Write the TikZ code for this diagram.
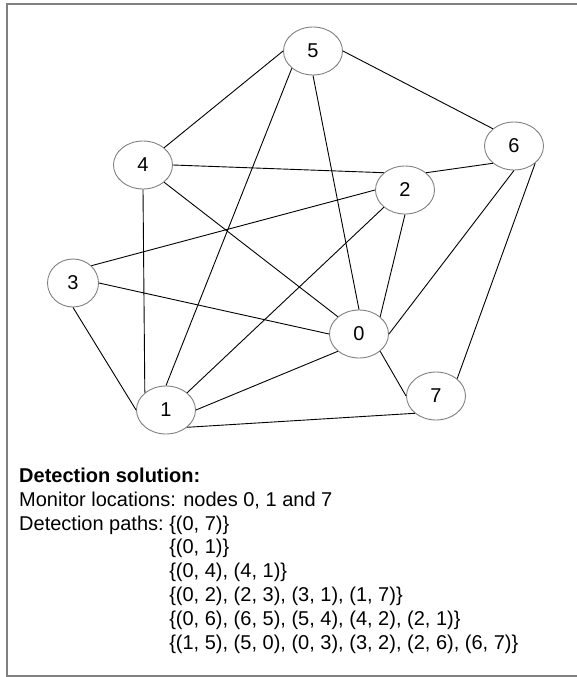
\documentclass[tikz,border=0pt]{standalone}
\usepackage{fontspec}
\setmainfont{Liberation Sans}
\usetikzlibrary{shapes,positioning}

\begin{document}
\begin{tikzpicture}[x=1pt, y=-1pt, font=\fontsize{20}{23.86}\selectfont,
	vertex/.style={ellipse, draw=gray, line width=0.9pt, minimum width=59pt, minimum height=48pt, inner sep=0pt},
	link/.style={black, line width=0.9pt}]
				\useasboundingbox (0,0) rectangle (577,677);
				\draw[gray, line width=1.2pt] (7,4) rectangle (590,676);
				
				\node[vertex] (v5) at (313,51) {5};
				\node[vertex] (v6) at (514,146) {6};
				\node[vertex] (v4) at (143,165) {4};
				\node[vertex] (v2) at (405,190) {2};
				\node[vertex, minimum width=51pt] (v3) at (73,283) {3};
				\node[vertex] (v0) at (359,334) {0};
				\node[vertex] (v7) at (436,396) {7};
				\node[vertex] (v1) at (166,410) {1};
				
				\draw[link] (v5.west) -- (v4.north east);
				\draw[link] (v5.south west) -- (v1.north);
				\draw[link] (v5.south) -- (v0.north);
				\draw[link] (v5.east) -- (v6.north west);
				\draw[link] (v4.east) -- (v2.north west);
				\draw[link] (v4.south east) -- (v0.north west);
				\draw[link] (v4.south) -- (v1.north west);
				\draw[link] (v6.south west) -- (v2.north east);
				\draw[link] (v6.south) -- (v0.east);
				\draw[link] (v6.south east) -- (v7.north east);
				\draw[link] (v2.west) -- (v3.north east);
				\draw[link] (v2.south west) -- (v1.north east);
				\draw[link] (v2.south) -- (v0.north east);
				\draw[link] (v3.east) -- (v0.west);
				\draw[link] (v3.south) -- (v1.west);
				\draw[link] (v1.east) -- (v0.south west);
				\draw[link] (v1.south east) -- (v7.south west);
				\draw[link] (v0.south east) -- (v7.west);
				
				\node[anchor=base west, inner sep=0pt] (solution) at (19,482.3) {%
					\begin{tabular}[t]{@{}l@{}l@{}}
						\multicolumn{2}{@{}l@{}}{\bfseries Detection solution:}\\
						\multicolumn{2}{@{}l@{}}{Monitor locations: nodes 0, 1 and 7}\\
						Detection paths:~ & \{(0, 7)\}\\
						& \{(0, 1)\}\\
						& \{(0, 4), (4, 1)\}\\
						& \{(0, 2), (2, 3), (3, 1), (1, 7)\}\\
						& \{(0, 6), (6, 5), (5, 4), (4, 2), (2, 1)\}\\
						& \{(1, 5), (5, 0), (0, 3), (3, 2), (2, 6), (6, 7)\}
					\end{tabular}};
			\end{tikzpicture}
\end{document}
